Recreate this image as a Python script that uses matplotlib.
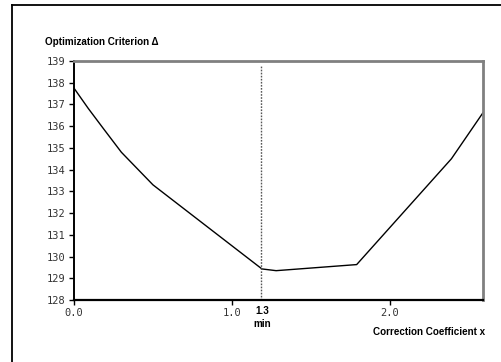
import matplotlib
matplotlib.use("Agg")
import matplotlib.pyplot as plt
from matplotlib.lines import Line2D

# values
coeff_x = [0.0, 0.09, 0.185, 0.30, 0.50, 1.19, 1.28, 1.79, 2.39, 2.59]
criterion = [137.75, 136.82, 135.9, 134.8, 133.3, 129.43, 129.35, 129.63, 134.5, 136.62]
x_min = 1.185
x_ticks = [0.0, 1.0, 2.0]
x_labels = ["0.0", "1.0", "2.0"]
y_ticks = list(range(128, 140))

fig = plt.figure(figsize=(5.01, 3.62), dpi=100)
ax = fig.add_axes([74/501, 62/362, (483-74)/501, (300-61)/362])

ax.plot(coeff_x, criterion, color="black", lw=1.0)
ax.plot([x_min, x_min], [128, 138.75], color="#555555", lw=1.0, ls=(0, (1.2, 1.0)))

ax.set_xlim(0, 2.59)
ax.set_ylim(128, 139)
ax.set_xticks(x_ticks)
ax.set_xticklabels(x_labels)
ax.set_yticks(y_ticks)

mono = "DejaVu Sans Mono"
for lab in ax.get_xticklabels() + ax.get_yticklabels():
    lab.set_family(mono)
    lab.set_fontsize(7.5)
    lab.set_color("#333333")
ax.tick_params(axis="both", direction="out", length=3.5, width=1, color="black", pad=2.5)

ax.spines["left"].set_color("black")
ax.spines["left"].set_linewidth(1.4)
ax.spines["bottom"].set_color("black")
ax.spines["bottom"].set_linewidth(1.6)
ax.spines["top"].set_color("#808080")
ax.spines["top"].set_linewidth(2)
ax.spines["right"].set_color("#808080")
ax.spines["right"].set_linewidth(2)

bold = dict(family="Liberation Sans", weight="bold", fontsize=7.1, color="black")
fig.text(45/501, 1 - 42/362, "Optimization Criterion \u0394", ha="left", va="center", **bold)
fig.text(485/501, 1 - 332/362, "Correction Coefficient x", ha="right", va="center", **bold)
fig.text(262/501, 1 - 311.5/362, "1.3", ha="center", va="center", **bold)
fig.text(262/501, 1 - 324/362, "min", ha="center", va="center", **bold)

# outer frame (left and top edges visible)
fig.add_artist(Line2D([11.5/501, 11.5/501], [0, 1 - 4.5/362], transform=fig.transFigure, color="black", lw=1.3))
fig.add_artist(Line2D([11.5/501, 1], [1 - 4.5/362, 1 - 4.5/362], transform=fig.transFigure, color="black", lw=1.3))

fig.savefig("out.png", dpi=100)
